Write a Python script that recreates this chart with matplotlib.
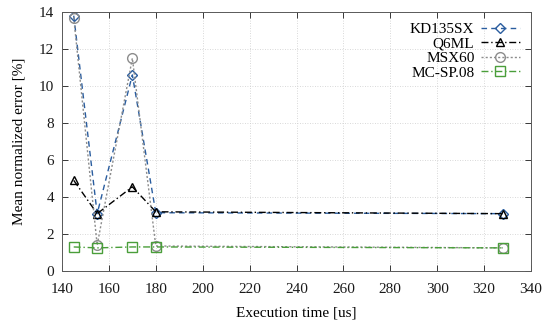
import matplotlib
matplotlib.use("Agg")
import matplotlib.pyplot as plt

plt.rcParams["font.family"] = ["Liberation Serif", "DejaVu Serif"]

exec_time = [145, 155, 170, 180, 328]
kd135sx = [13.8, 3.1, 10.6, 3.15, 3.1]
q6ml = [4.9, 3.1, 4.55, 3.2, 3.1]
msx60 = [13.7, 1.4, 11.5, 1.35, 1.25]
mcsp08 = [1.3, 1.25, 1.3, 1.3, 1.25]

SERIES = [
    ("KD135SX", kd135sx, "#2a5d9f", "D", (0, (4, 3)), 5.0),
    ("Q6ML", q6ml, "black", "^", (0, (5, 2, 1, 2)), 6.0),
    ("MSX60", msx60, "#8c8c8c", "o", (0, (1.5, 1.5)), 7),
    ("MC-SP.08", mcsp08, "#4a9e3a", "s", (0, (5, 2, 1, 2)), 7),
]

fig = plt.figure(figsize=(5.5, 3.26), dpi=100)
ax = fig.add_axes([62 / 550, 1 - 271 / 326, (531 - 62) / 550, (271 - 12) / 326])

for name, vals, col, mk, ls, ms in SERIES:
    ax.plot(exec_time, vals, color=col, linestyle=ls, lw=1.0, marker=mk,
            markersize=ms, markerfacecolor="none", markeredgecolor=col,
            markeredgewidth=1.0, label=name)

ax.set_xlim(140, 340)
ax.set_ylim(0, 14)
ax.set_xticks(range(140, 341, 20))
ax.set_yticks(range(0, 15, 2))
ax.tick_params(direction="in", top=True, right=True, length=4, width=0.6,
               labelsize=11, colors="0.1")
ax.tick_params(axis="x", pad=8.5)
ax.tick_params(axis="y", pad=5.5)
ax.grid(True, color="0.8", linestyle=(0, (1, 2)), lw=0.6)
for s in ax.spines.values():
    s.set_color("0.35")
    s.set_linewidth(0.7)
ax.set_xlabel("Execution time [us]", fontsize=11, labelpad=8)
ax.set_ylabel("Mean normalized error [%]", fontsize=11, labelpad=10)

leg = ax.legend(loc="upper right", frameon=False, markerfirst=False,
                fontsize=11, handlelength=2.6, labelspacing=0.05,
                borderaxespad=0.3, handletextpad=0.4)

fig.savefig("out.png", dpi=100)
